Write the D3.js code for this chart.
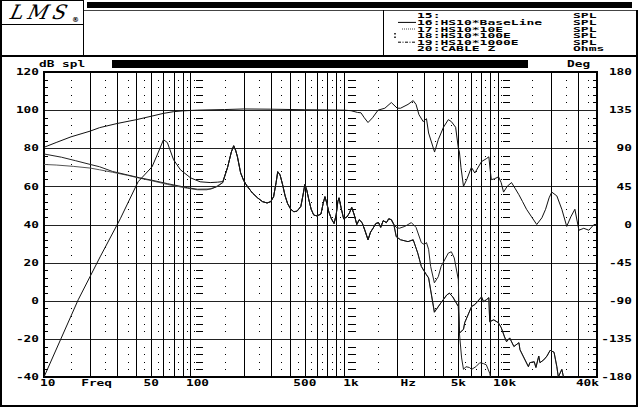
<!DOCTYPE html>
<html>
<head>
<meta charset="utf-8">
<script src="https://cdn.jsdelivr.net/npm/d3@7"></script>
<style>
  html, body { margin: 0; padding: 0; background: #fff; }
  svg { display: block; }
</style>
</head>
<body>
<div id="chart"></div>
<script>
const xTickFreqs = [10, 50, 100, 500, 1000, 5000, 10000, 40000];
const xTickLabels = ['10', '50', '100', '500', '1k', '5k', '10k', '40k'];
const dbTicks = [120, 100, 80, 60, 40, 20, 0, -20, -40];
const degTicks = [180, 135, 90, 45, 0, -45, -90, -135, -180];
const legendRows = ['15:', '16:HS10*BaseLine', '17:HS10*10E', '18:HS10*100E', '19:HS10*1000E', '20:CABLE Z'];
const legendUnits = ['SPL', 'SPL', 'SPL', 'SPL', 'SPL', 'Ohms'];

// [Hz, dB]
const baseLine = [
  [10, 80.5], [12, 83], [15, 86], [20, 89], [23, 90.8], [30, 93], [40, 95], [50, 96.8], [60, 98.3],
  [70, 99.2], [80, 99.6], [100, 100], [150, 100.3], [200, 100.6], [300, 100.5], [500, 100.2],
  [700, 100.1], [900, 100], [1000, 99.7], [1100, 98.8], [1160, 98.6], [1220, 96], [1290, 93.5],
  [1380, 96], [1500, 100], [1660, 101], [1830, 104], [2000, 101], [2100, 101], [2350, 103],
  [2540, 105], [2650, 103], [2770, 97.6], [2950, 94], [3100, 95.5], [3200, 88], [3500, 78],
  [3700, 84.5], [4000, 91], [4300, 95], [4500, 94], [4800, 91], [5000, 80], [5080, 78], [5200, 70],
  [5400, 60], [5700, 64], [6080, 70], [6400, 67], [7080, 73], [7600, 74.5], [7900, 75.5],
  [8050, 69], [8200, 63.5], [8600, 64], [9140, 65], [9500, 62], [9850, 57], [10400, 60],
  [11100, 62], [11700, 59], [12400, 55.6], [13100, 52], [13900, 48], [15000, 44], [16200, 40],
  [17500, 43.5], [18500, 48], [19500, 54], [20300, 57], [21900, 55], [23600, 48], [25400, 39],
  [27000, 44], [28700, 48], [30500, 37], [32800, 38], [35400, 37], [38200, 40], [40000, 40],
];

const lowL1 = [
  [10, 77], [13, 75.3], [16, 73.5], [20, 71.5], [23, 70.3], [28, 67.8], [35, 66], [42, 64.5],
  [50, 63.3], [64, 61.4], [86, 59.3], [100, 58.5], [122, 58.6], [135, 60], [146, 62],
];

const lowL2 = [
  [10, 71.5], [12, 71.2], [15.5, 70.5], [20, 69.6], [23, 68.7], [28, 67.4], [35, 65.8], [42, 64.3],
  [50, 63], [64, 61], [86, 59], [100, 58.2], [115, 58.2], [130, 59.5], [146, 62],
];

const lowRes = [
  [10, -40], [16.7, 0.5], [23.2, 23], [31.4, 43], [41, 62.4], [50.6, 70.3], [55.6, 78], [60, 84.5],
  [63.6, 83], [69.8, 74], [77.4, 68.7], [90, 64.5], [104, 62.4], [121, 62], [135, 62.2], [146, 62.5],
];

const midBand = [
  [157, 70], [166, 78], [172, 81.3], [177, 79], [182, 75.5], [191, 67], [200, 63], [211, 60],
  [228, 56.5], [246, 54], [265, 52], [284, 51.3], [300, 52], [313, 54.6], [325, 62], [333, 67.7],
  [345, 66], [358, 61], [372, 55], [386, 51], [405, 48], [424, 46.7], [445, 47], [471, 49.5],
  [488, 56], [500, 61], [515, 58], [531, 53], [550, 48], [571, 45], [600, 44.5], [637, 45.5],
  [658, 51], [676, 54.6], [696, 51], [717, 46.5], [745, 43], [775, 40.5], [800, 45], [820, 52],
  [835, 54], [860, 49], [895, 43], [940, 44], [975, 46], [1010, 49], [1050, 45], [1090, 40],
  [1130, 42.5], [1180, 41], [1230, 37], [1290, 32], [1340, 36], [1390, 38], [1450, 40.5],
  [1510, 41], [1560, 38.5], [1620, 42], [1700, 41], [1760, 43], [1830, 42.5], [1900, 40],
];

const highA = [
  [1970, 38.5], [2060, 38], [2240, 39], [2470, 41], [2650, 38.5], [2870, 30.5], [3000, 29.5],
  [3100, 30.5], [3200, 27], [3300, 18], [3490, 9.4], [3700, 12.6], [3860, 18], [4300, 25],
  [4500, 25.7], [4700, 22.5], [5000, 11], [5080, -17], [5250, -30], [5400, -36], [5600, -34.6],
  [5900, -35], [6100, -36], [6500, -34.6], [6900, -32.5], [7300, -33], [7600, -33.6], [8000, -38],
  [8300, -44],
];

const highB = [
  [1970, 33.6], [2100, 32], [2350, 31], [2540, 32], [2720, 25], [2870, 18], [3100, 13.6],
  [3200, 12], [3490, -6], [3860, -1], [4200, 3], [4370, 4], [4600, 2], [5000, -3], [5050, -13.5],
  [5080, -17], [5400, -15], [5500, -11.5], [6100, -3], [6400, -2], [7080, 2], [7300, -0.5],
  [7600, 0.5], [7900, 1.6], [8000, -11], [8500, -10], [9100, -11.5], [9500, -14], [10000, -19],
  [10300, -21.5], [10800, -19.5], [11500, -24], [12400, -22], [12600, -25.7], [13200, -29],
  [14300, -34.6], [14600, -32.5], [15600, -32], [16000, -35], [16700, -29], [17000, -32.5],
  [18000, -31], [18900, -29], [19800, -26], [21000, -27], [21900, -34.6], [22400, -40],
  [23600, -36], [24200, -40], [24800, -44],
];

const series = [
  { id: 18, points: [...lowL2, ...midBand, ...highB], color: '#555' },
  { id: 17, points: [...lowL1, ...midBand, ...highA], color: '#222' },
  { id: 19, points: [...lowRes, ...midBand, ...highB], color: '#111' },
  { id: 16, points: baseLine, color: '#111' },
];

const width = 640;
const height = 408;
const plot = { left: 44, right: 597, top: 72, bottom: 377 };

const x = d3.scaleLog().domain([10, 40000]).range([plot.left, plot.right]);
const y = d3.scaleLinear().domain([-40, 120]).range([plot.bottom, plot.top]);
const yDeg = d3.scaleLinear().domain([-180, 180]).range([plot.bottom, plot.top]);

const svg = d3.select('#chart')
  .append('svg')
  .attr('width', width)
  .attr('height', height)
  .attr('font-family', "'DejaVu Sans Mono', monospace")
  .attr('font-weight', 'bold');

// squat bitmap-like text
const squat = (g, px, py, str, anchor, size, sy) => g.append('text')
  .attr('transform', `translate(${px},${py}) scale(1,${sy})`)
  .attr('text-anchor', anchor)
  .attr('dy', '0.36em')
  .attr('font-size', size)
  .attr('fill', '#000')
  .text(str);

const hline = (g, x1, x2, yy, w, c = '#000') => g.append('line')
  .attr('x1', x1).attr('x2', x2).attr('y1', yy).attr('y2', yy)
  .attr('stroke', c).attr('stroke-width', w);
const vline = (g, xx, y1, y2, w, c = '#000') => g.append('line')
  .attr('x1', xx).attr('x2', xx).attr('y1', y1).attr('y2', y2)
  .attr('stroke', c).attr('stroke-width', w);

// header frame
const frame = svg.append('g').attr('shape-rendering', 'crispEdges');
hline(frame, 0, 84, 0.5, 1);
vline(frame, 0.5, 0, 406, 2);
vline(frame, 83.5, 0, 56, 1.5);
hline(frame, 0, 84, 24.5, 1.5);
frame.append('rect').attr('x', 87).attr('y', 2).attr('width', 545).attr('height', 6).attr('fill', '#000');
hline(frame, 84, 638, 10.5, 1.5, '#444');
vline(frame, 383.5, 10, 56, 1.5);
vline(frame, 637, 10, 406, 2);
hline(frame, 0, 638, 56, 2);
hline(frame, 0, 638, 405.5, 2);

// logo
svg.append('text')
  .attr('x', 10).attr('y', 19)
  .attr('font-family', "'DejaVu Serif', serif")
  .attr('font-style', 'italic')
  .attr('font-weight', 'normal')
  .attr('font-size', 20)
  .attr('textLength', 56)
  .attr('transform', 'skewX(-14) translate(4,0)')
  .text('LMS');
svg.append('text')
  .attr('x', 72).attr('y', 22)
  .attr('font-family', "'DejaVu Sans', sans-serif")
  .attr('font-size', 7)
  .text('\u00AE');

// legend
const legend = svg.append('g');
const rowY = (i) => 15.8 + i * 6.6;
legendRows.forEach((row, i) => {
  squat(legend, 417, rowY(i), row, 'start', 13, 0.55);
  squat(legend, 573, rowY(i), legendUnits[i], 'start', 13, 0.55);
});
hline(legend, 398, 416, rowY(1), 1);
hline(legend, 402, 416, rowY(2), 1, '#444').attr('stroke-dasharray', '1,1');
vline(legend, 395, rowY(3) - 2.5, rowY(3) + 2.5, 1.5).attr('stroke-dasharray', '1.5,2');
hline(legend, 398, 416, rowY(4), 1).attr('stroke-dasharray', '3,1.5,1,1.5');

// axis header strip
squat(svg, 39, 64, 'dB spl', 'start', 12.8, 0.7);
svg.append('rect').attr('x', 112).attr('y', 60).attr('width', 416).attr('height', 8).attr('fill', '#000');
squat(svg, 567, 64, 'Deg', 'start', 12.8, 0.7);

// grid
const grid = svg.append('g').attr('shape-rendering', 'crispEdges');
const decades = [10, 100, 1000, 10000];
const lineFreqs = [];
const dotFreqs = [];
decades.forEach((d) => {
  d3.range(1, 10).forEach((k) => {
    if (k > 1 && k * d < 40000) lineFreqs.push(k * d);
    if ((k + 0.5) * d < 40000) dotFreqs.push((k + 0.5) * d);
  });
});
const minorLevels = d3.range(-36, 120, 4).filter((v) => v % 20 !== 0);

dotFreqs.forEach((f) => {
  minorLevels.forEach((v) => {
    grid.append('rect')
      .attr('x', Math.round(x(f)))
      .attr('y', Math.round(y(v)))
      .attr('width', 1)
      .attr('height', 1)
      .attr('fill', '#000');
  });
});

dbTicks.slice(1, -1).forEach((v) => hline(grid, plot.left, plot.right, Math.round(y(v)) + 0.5, 1, '#222'));
lineFreqs.forEach((f) => vline(grid, Math.round(x(f)) + 0.5, plot.top, plot.bottom, 1));

[100, 1000, 10000].forEach((f) => {
  const xx = Math.round(x(f)) + 0.5;
  minorLevels.forEach((v) => hline(grid, xx - 3, xx + 4, Math.round(y(v)) + 0.5, 1));
});
minorLevels.forEach((v) => {
  hline(grid, plot.left, plot.left + 4, Math.round(y(v)) + 0.5, 1);
  hline(grid, plot.right - 4, plot.right, Math.round(y(v)) + 0.5, 1);
});

grid.append('rect')
  .attr('x', plot.left)
  .attr('y', plot.top)
  .attr('width', plot.right - plot.left)
  .attr('height', plot.bottom - plot.top)
  .attr('fill', 'none')
  .attr('stroke', '#000')
  .attr('stroke-width', 1.5);

// curves
svg.append('clipPath').attr('id', 'plotclip')
  .append('rect')
  .attr('x', plot.left)
  .attr('y', plot.top)
  .attr('width', plot.right - plot.left)
  .attr('height', plot.bottom - plot.top);

const line = d3.line()
  .x((d) => x(d[0]))
  .y((d) => y(d[1]));

svg.append('g')
  .attr('clip-path', 'url(#plotclip)')
  .selectAll('path')
  .data(series)
  .join('path')
  .attr('d', (d) => line(d.points))
  .attr('fill', 'none')
  .attr('stroke', (d) => d.color)
  .attr('stroke-width', 1)
  .attr('stroke-linejoin', 'round');

// axis labels
const labels = svg.append('g');
dbTicks.forEach((v) => squat(labels, 39, y(v), String(v), 'end', 12.8, 0.7));
degTicks.forEach((v) => squat(labels, 632, yDeg(v), String(v), 'end', 12.8, 0.7));
xTickFreqs.forEach((f, i) => {
  let anchor = 'middle';
  let px = x(f);
  if (i === 0) { anchor = 'start'; px -= 4; }
  if (i === xTickFreqs.length - 1) { anchor = 'end'; px += 2; }
  squat(labels, px, 383, xTickLabels[i], anchor, 12.8, 0.7);
});
squat(labels, x(22), 383, 'Freq', 'middle', 12.8, 0.7);
squat(labels, x(2360), 383, 'Hz', 'middle', 12.8, 0.7);
</script>
</body>
</html>
